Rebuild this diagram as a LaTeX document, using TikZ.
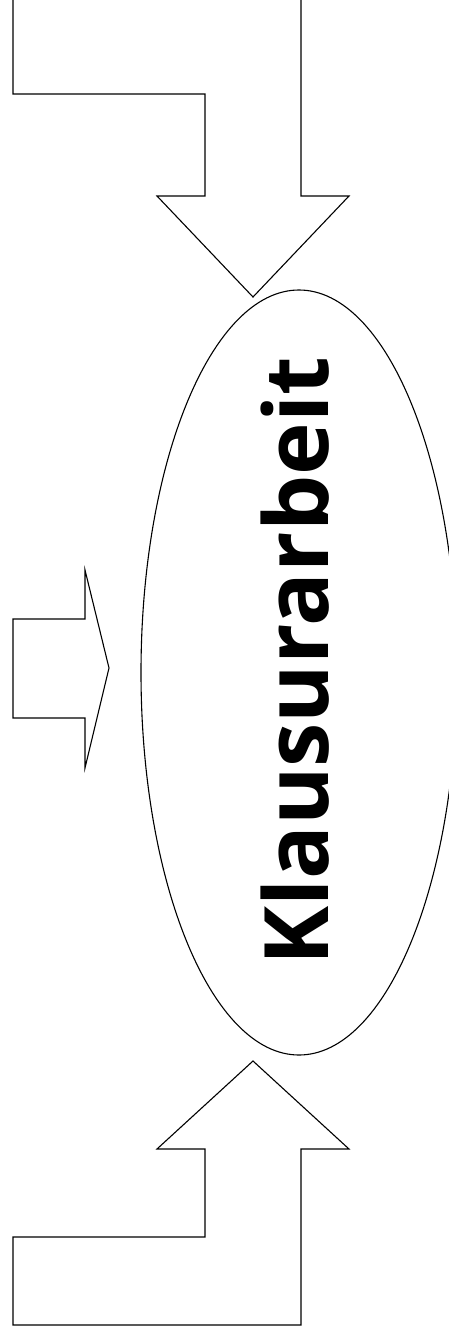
\documentclass[tikz,border=0pt]{standalone}
\usepackage{fontspec}
\setsansfont{Open Sans}
\usepackage{tikz}
\usetikzlibrary{shapes.geometric}

\begin{document}
\begin{tikzpicture}[x=1pt, y=-1pt, line width=1.1pt, line join=miter,
  every node/.style={font=\sffamily\bfseries\fontsize{89}{96}\selectfont}]
  \useasboundingbox (0,0) rectangle (449,1337);
  \clip (0,0) rectangle (449,1337);
  % top arrow, coming down
  \draw (13,-10) -- (13,94) -- (205,94) -- (205,196) -- (157,196) -- (253,297)
    -- (349,196) -- (301,196) -- (301,-10);
  % small arrow on the left
  \draw (13,619) -- (85,619) -- (85,570) -- (109,668) -- (85,768) -- (85,718)
    -- (13,718) -- cycle;
  % bottom arrow, going up
  \draw (253,1061) -- (349,1149) -- (301,1149) -- (301,1325) -- (13,1325)
    -- (13,1237) -- (205,1237) -- (205,1149) -- (157,1149) -- cycle;
  \node[draw, ellipse, minimum width=316pt, minimum height=765pt, inner sep=0pt]
    (klausur) at (299,672.5) {};
  \node[rotate=90, anchor=base, inner sep=0pt] (titel)
    at ([xshift=29pt, yshift=11pt]klausur.center) {Klausurarbeit};
\end{tikzpicture}
\end{document}
